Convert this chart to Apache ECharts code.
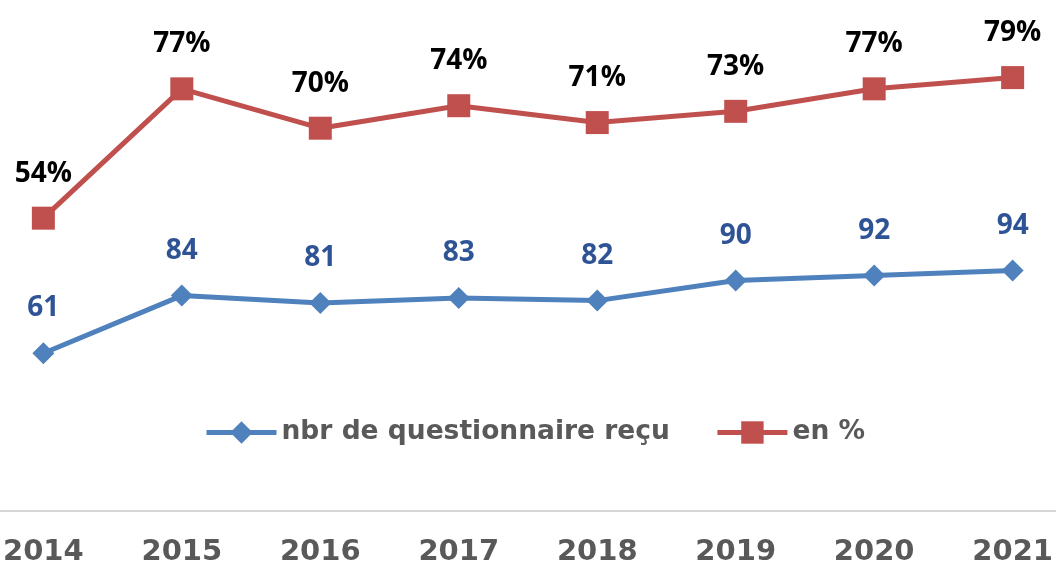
<!DOCTYPE html>
<html>
<head>
<meta charset="utf-8">
<script src="https://cdn.jsdelivr.net/npm/echarts@6/dist/echarts.min.js"></script>
<style>
html,body{margin:0;padding:0;background:#fff;}
#chart{width:1056px;height:567px;}
</style>
</head>
<body>
<div id="chart"></div>
<script>
var years = ['2014','2015','2016','2017','2018','2019','2020','2021'];
var questionnaires = [61, 84, 81, 83, 82, 90, 92, 94];
var percent = [54, 77, 70, 74, 71, 73, 77, 79];
var seriesNames = ['nbr de questionnaire reçu', 'en %'];

var chart = echarts.init(document.getElementById('chart'), null, {renderer:'canvas'});
chart.setOption({
  animation: false,
  backgroundColor: '#ffffff',
  grid: [
    { left: 42, right: 38, top: 0, bottom: 56.3, containLabel: false },
    { left: 0, right: 0, top: 0, bottom: 56.3, containLabel: false }
  ],
  legend: {
    left: 204, top: 419, padding: 0,
    itemWidth: 70, itemHeight: 28, itemGap: 45,
    lineStyle: { width: 5 },
    textStyle: { fontFamily: 'DejaVu Sans', fontWeight: 'bold', fontSize: 26.5, color: '#595959' },
    data: seriesNames
  },
  xAxis: [
    {
      type: 'category', data: years, boundaryGap: false, gridIndex: 0,
      axisLine: { show: false },
      axisTick: { show: false },
      axisLabel: { interval: 0, margin: 37, fontFamily: 'DejaVu Sans', fontWeight: 'bold', fontSize: 29, color: '#595959' }
    },
    {
      type: 'category', data: years, gridIndex: 1,
      axisLine: { show: true, lineStyle: { color: '#D5D5D5', width: 2 } },
      axisTick: { show: false }, axisLabel: { show: false }
    }
  ],
  yAxis: [
    { type: 'value', gridIndex: 0, min: 2, max: 202, show: false, splitLine: { show: false } },
    { type: 'value', gridIndex: 0, min: 3.7, max: 92.8, show: false, splitLine: { show: false } },
    { type: 'value', gridIndex: 1, min: 0, max: 1, show: false, splitLine: { show: false } }
  ],
  series: [
    {
      name: seriesNames[0], type: 'line', xAxisIndex: 0, yAxisIndex: 0, data: questionnaires,
      symbol: 'diamond', symbolSize: 22, showAllSymbol: true,
      lineStyle: { color: '#4F81BD', width: 5 },
      itemStyle: { color: '#4F81BD' },
      label: { show: true, position: 'top', distance: 20, fontFamily: 'Open Sans', fontWeight: 'bold', fontSize: 28, color: '#2F5496' }
    },
    {
      name: seriesNames[1], type: 'line', xAxisIndex: 0, yAxisIndex: 1, data: percent,
      symbol: 'rect', symbolSize: 23, showAllSymbol: true,
      lineStyle: { color: '#C0504D', width: 5 },
      itemStyle: { color: '#C0504D' },
      label: { show: true, position: 'top', distance: 19, fontFamily: 'Open Sans', fontWeight: 'bold', fontSize: 28, color: '#000000', formatter: '{c}%' }
    }
  ]
});
</script>
</body>
</html>
